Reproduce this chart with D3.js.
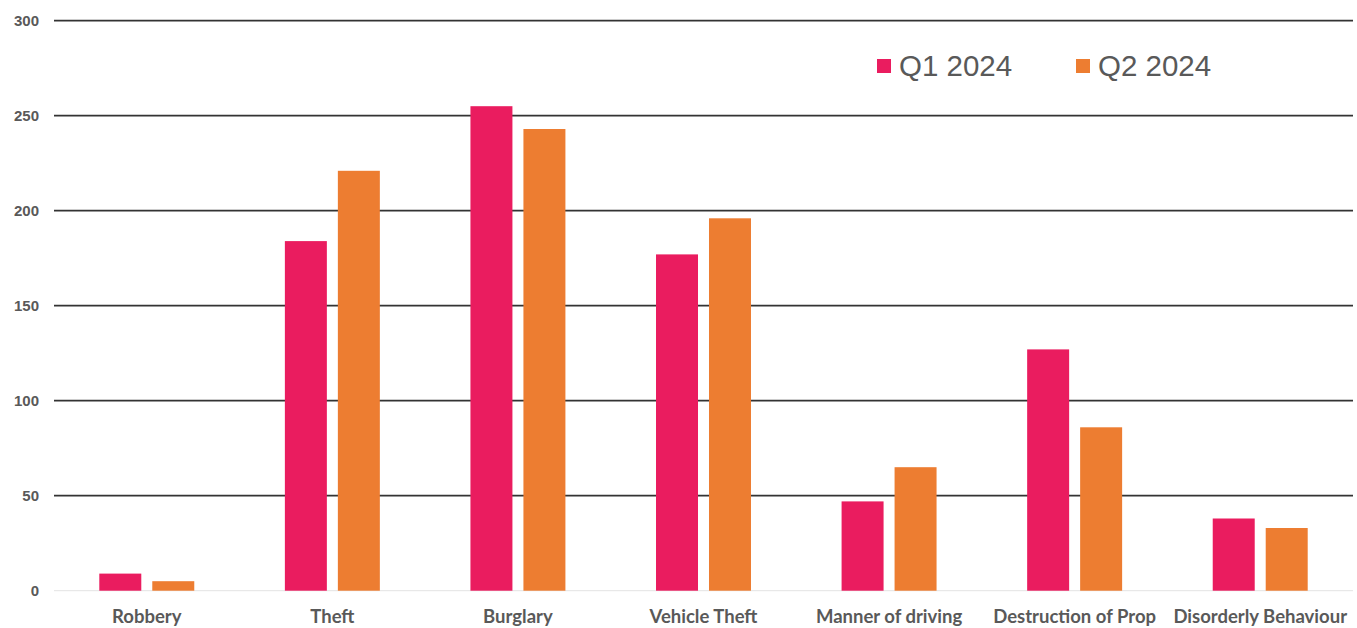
<!DOCTYPE html>
<html>
<head>
<meta charset="utf-8">
<script src="https://cdn.jsdelivr.net/npm/d3@7"></script>
<style>
  html, body { margin: 0; padding: 0; background: #fff; }
  svg { display: block; }
</style>
</head>
<body>
<svg id="chart" width="1357" height="628"></svg>
<script>
const categories = ["Robbery", "Theft", "Burglary", "Vehicle Theft", "Manner of driving", "Destruction of Prop", "Disorderly Behaviour"];
const seriesNames = ["Q1 2024", "Q2 2024"];
const q1Values = [9, 184, 255, 177, 47, 127, 38];
const q2Values = [5, 221, 243, 196, 65, 86, 33];
const yTicks = [0, 50, 100, 150, 200, 250, 300];
const colors = ["#EA1C5F", "#ED7D31"];

const svg = d3.select("#chart");
const margin = { left: 54, right: 4, top: 20.7, bottom: 37.3 };
const W = 1357, H = 628;

const x = d3.scaleBand().domain(categories).range([margin.left, W - margin.right]).paddingInner(0).paddingOuter(0);
const y = d3.scaleLinear().domain([0, 300]).range([H - margin.bottom, margin.top]);
const xs = d3.scaleBand().domain(seriesNames).range([0, x.bandwidth()]).paddingInner(0.2075).paddingOuter(0.855);

// gridlines
svg.append("g").selectAll("line").data(yTicks.filter(d => d > 0)).join("line")
  .attr("x1", margin.left).attr("x2", W - margin.right)
  .attr("y1", d => y(d)).attr("y2", d => y(d))
  .attr("stroke", "#333").attr("stroke-width", 1.7);

// zero line
svg.append("line").attr("x1", margin.left).attr("x2", W - margin.right)
  .attr("y1", y(0)).attr("y2", y(0)).attr("stroke", "#e3e3e3").attr("stroke-width", 1);

// y axis labels
const yAxis = d3.axisLeft(y).tickValues(yTicks).tickSize(0).tickPadding(15);
const gy = svg.append("g").attr("transform", `translate(${margin.left},0)`).call(yAxis);
gy.select(".domain").remove();
gy.selectAll("text").attr("font-family", "Liberation Sans, Arial, sans-serif")
  .attr("font-weight", "bold").attr("font-size", 15).attr("fill", "#595959");

// bars
const data = categories.map((c, i) => ({ cat: c, vals: [q1Values[i], q2Values[i]] }));
const groups = svg.append("g").selectAll("g").data(data).join("g")
  .attr("transform", d => `translate(${x(d.cat)},0)`);
groups.selectAll("rect").data(d => d.vals.map((v, j) => ({ v, s: seriesNames[j], j }))).join("rect")
  .attr("x", d => xs(d.s)).attr("width", xs.bandwidth())
  .attr("y", d => y(d.v)).attr("height", d => y(0) - y(d.v))
  .attr("fill", d => colors[d.j]);

// x axis labels
const xAxis = d3.axisBottom(x).tickSize(0).tickPadding(19);
const gx = svg.append("g").attr("transform", `translate(0,${y(0)})`).call(xAxis);
gx.select(".domain").remove();
gx.selectAll("text").attr("font-family", "Lato, Carlito, Calibri, sans-serif")
  .attr("font-weight", "bold").attr("font-size", 18.5).attr("fill", "#595959");

// legend
const legendX = [877, 1076];
const lg = svg.append("g").selectAll("g").data(seriesNames).join("g")
  .attr("transform", (d, i) => `translate(${legendX[i]},59)`);
lg.append("rect").attr("width", 14).attr("height", 14).attr("fill", (d, i) => colors[i]);
lg.append("text").attr("x", 22).attr("y", 16.5).text(d => d)
  .attr("font-family", "Liberation Sans, Arial, sans-serif").attr("font-size", 29.5).attr("fill", "#595959");
</script>
</body>
</html>
